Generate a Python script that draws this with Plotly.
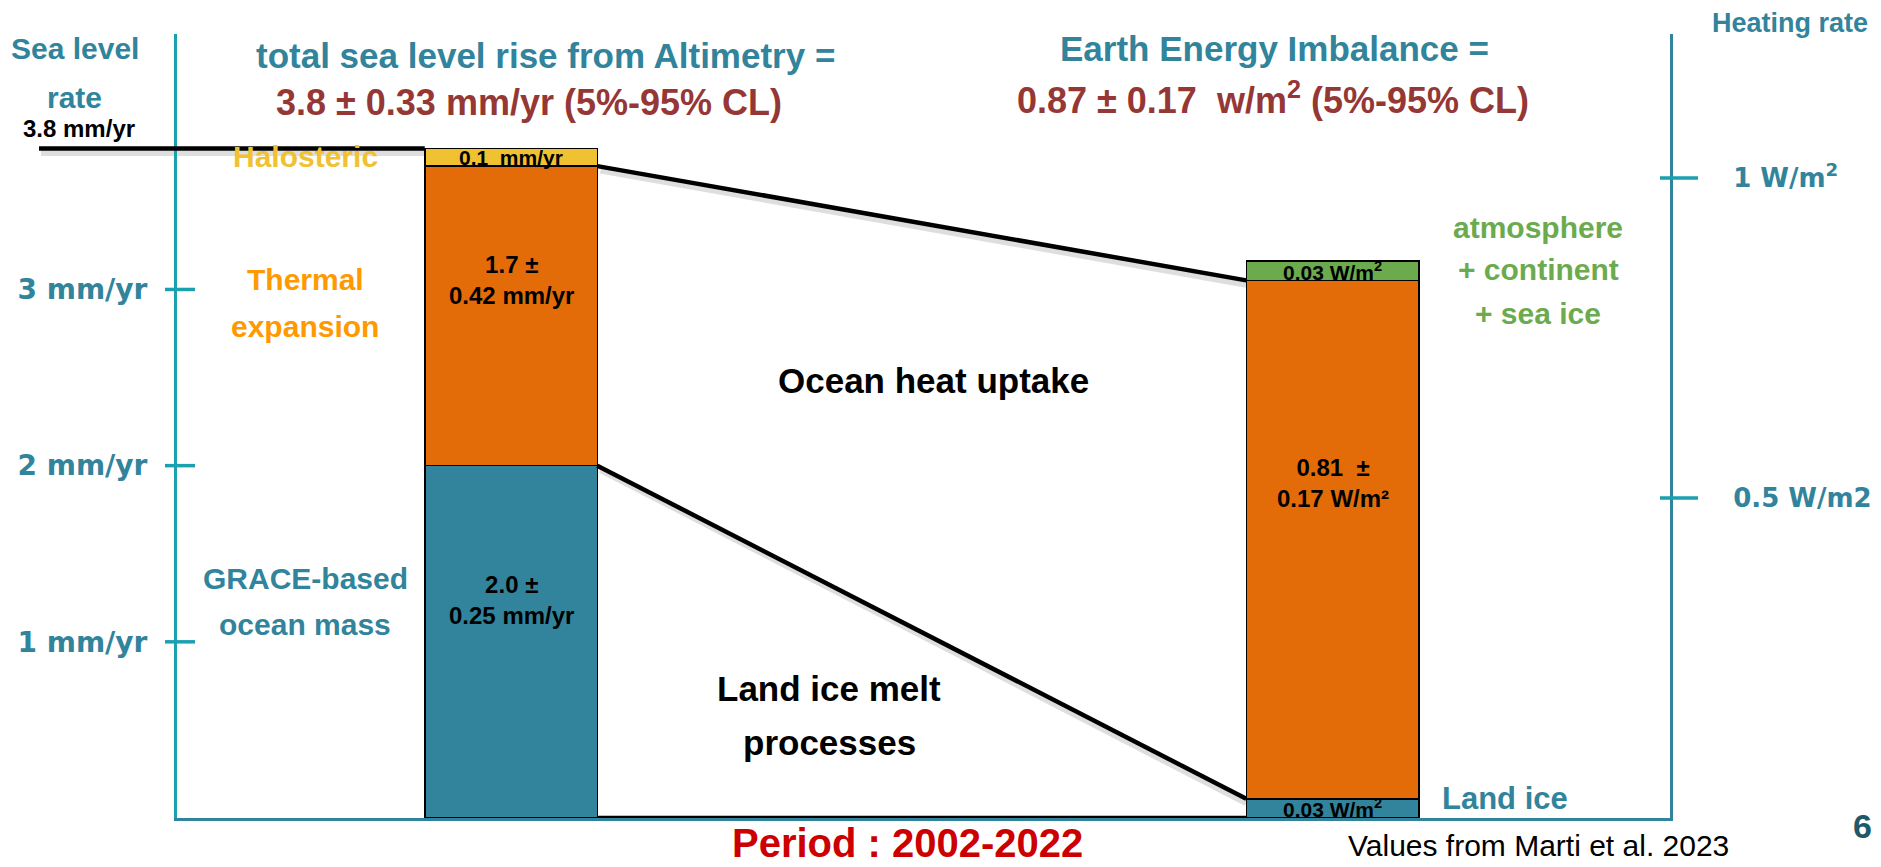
import plotly.graph_objects as go

# ---- budget components (bottom to top of each column) ----
sea_parts = ["GRACE-based ocean mass", "Thermal expansion", "Halosteric"]
sea_rates = [2.0, 1.7, 0.1]          # mm/yr
sea_errors = [0.25, 0.42, None]      # mm/yr

energy_parts = ["Land ice", "Ocean heat uptake", "atmosphere + continent + sea ice"]
energy_rates = [0.03, 0.81, 0.03]    # W/m2
energy_errors = [None, 0.17, None]   # W/m2

sea_total, sea_total_err = 3.8, 0.33   # altimetry, mm/yr
eei_total, eei_err = 0.87, 0.17        # Earth energy imbalance, W/m2
period = "2002-2022"

sea_ticks = [1, 2, 3]
sea_tick_text = ["1 mm/yr", "2 mm/yr", "3 mm/yr"]
heat_ticks = [0.5, 1.0]
heat_tick_text = ["0.5 W/m2", "1 W/m<sup>2</sup>"]

# ---- styling ----
TEAL = "#31849B"
AXIS_CYAN = "#1BA0B0"
ORANGE = "#E36C09"
GOLD = "#F0C232"
GREEN = "#6CAA4E"
RED = "#953735"
SANS = "Liberation Sans, Arial, sans-serif"
ROUND = "DejaVu Sans, Verdana, sans-serif"
SHADOW = "rgba(0,0,0,0.13)"

COL_X = [0, 1]          # column positions on the x axis
BAR_W = 0.21
X_MIN, X_MAX = -0.4066, 1.4108
Y_LEFT_MAX = 4.45       # mm/yr at top of plot area
Y_RIGHT_MAX = 1.225     # W/m2 at top of plot area
K = Y_LEFT_MAX / Y_RIGHT_MAX   # W/m2 -> left-axis units
SHADOW_DY = 0.022       # drop-shadow offset, left-axis units

# slide geometry (pixels) of the plot area
W_FIG, H_FIG = 1881, 867
PL, PR, PT, PB = 177, 1670, 34, 818


def px(X, Y):
    """Slide pixel position -> paper coordinates."""
    return (X - PL) / (PR - PL), (PB - Y) / (PB - PT)


fig = go.Figure()

# sea-level column (left axis)
for name, v, c in zip(sea_parts, sea_rates, [TEAL, ORANGE, GOLD]):
    fig.add_trace(go.Bar(x=[COL_X[0]], y=[v], name=name, width=BAR_W,
                         marker=dict(color=c, line=dict(color="black", width=1.5)),
                         yaxis="y", hoverinfo="skip"))

# energy column (right axis)
for name, v, c in zip(energy_parts, energy_rates, [TEAL, ORANGE, GREEN]):
    fig.add_trace(go.Bar(x=[COL_X[1]], y=[v], name=name, width=BAR_W,
                         marker=dict(color=c, line=dict(color="black", width=1.5)),
                         yaxis="y2", hoverinfo="skip"))

# connectors between the two columns (with a soft drop shadow)
x_l = COL_X[0] + BAR_W / 2
x_r = COL_X[1] - BAR_W / 2
connectors = [
    (sum(sea_rates[:2]), sum(energy_rates[:2]) * K),
    (sea_rates[0], energy_rates[0] * K),
    (0, 0),
]
for y_a, y_b in connectors:
    fig.add_trace(go.Scatter(x=[x_l + 0.004, x_r], y=[y_a - SHADOW_DY, y_b - SHADOW_DY],
                             mode="lines", line=dict(color=SHADOW, width=7),
                             yaxis="y", hoverinfo="skip", showlegend=False, cliponaxis=False))
for y_a, y_b in connectors:
    fig.add_trace(go.Scatter(x=[x_l, x_r], y=[y_a, y_b], mode="lines",
                             line=dict(color="black", width=4.5),
                             yaxis="y", hoverinfo="skip", showlegend=False))

# total sea-level line
x_bar_left = (COL_X[0] - BAR_W / 2 - X_MIN) / (X_MAX - X_MIN)
fig.add_shape(type="line", xref="paper", yref="y", x0=px(41, 0)[0], x1=x_bar_left,
              y0=sea_total - SHADOW_DY, y1=sea_total - SHADOW_DY,
              line=dict(color=SHADOW, width=7), layer="below")
fig.add_shape(type="line", xref="paper", yref="y", x0=px(39, 0)[0], x1=x_bar_left,
              y0=sea_total, y1=sea_total, line=dict(color="black", width=4.5))
fig.add_annotation(xref="paper", yref="y", x=px(79, 0)[0], y=sea_total,
                   xanchor="center", yanchor="bottom", yshift=5, showarrow=False,
                   text=f"<b>{sea_total} mm/yr</b>",
                   font=dict(family=SANS, size=24, color="black"))

# cross-shaped ticks on both axes
for t in sea_ticks:
    fig.add_shape(type="line", xref="paper", yref="y", x0=px(165, 0)[0], x1=px(195, 0)[0],
                  y0=t, y1=t, line=dict(color=AXIS_CYAN, width=3.5))
for t in heat_ticks:
    fig.add_shape(type="line", xref="paper", yref="y2", x0=px(1660, 0)[0], x1=px(1698, 0)[0],
                  y0=t, y1=t, line=dict(color=AXIS_CYAN, width=3.5))

# labels inside the segments
base = 0
for v, err in zip(sea_rates, sea_errors):
    frac = 0.62 if err else 0.5
    txt = f"{v:.1f} ±<br>{err:.2f} mm/yr" if err else f"{v:.1f}  mm/yr"
    fig.add_annotation(x=COL_X[0], y=base + frac * v, xref="x", yref="y", showarrow=False,
                       text=f"<b>{txt}</b>",
                       font=dict(family=SANS, size=24 if err else 21, color="black"))
    base += v

base = 0
for v, err in zip(energy_rates, energy_errors):
    frac = 0.61 if err else 0.5
    txt = f"{v:.2f}  ±<br>{err:.2f} W/m²" if err else f"{v:.2f} W/m<sup>2</sup>"
    fig.add_annotation(x=COL_X[1], y=base + frac * v, xref="x", yref="y2", showarrow=False,
                       text=f"<b>{txt}</b>",
                       font=dict(family=SANS, size=24 if err else 21, color="black"))
    base += v


def note(lines, X, Y0, size, color, step=None, bold=True):
    step = step or size * 1.3
    for i, line in enumerate(lines):
        xp, yp = px(X, Y0 + i * step)
        fig.add_annotation(xref="paper", yref="paper", x=xp, y=yp, showarrow=False,
                           xanchor="center", yanchor="middle",
                           text=f"<b>{line}</b>" if bold else line,
                           font=dict(family=SANS, size=size, color=color))


note(["Sea level", "rate"], 75, 48, 30, TEAL, step=50)
note(["total sea level rise from Altimetry ="], 545, 55, 35, TEAL)
note([f"{sea_total} ± {sea_total_err} mm/yr (5%-95% CL)"], 529, 102, 36, RED)
note(["Earth Energy Imbalance ="], 1274, 49, 35, TEAL)
note([f"{eei_total} ± {eei_err}  w/m<sup>2</sup> (5%-95% CL)"], 1273, 98, 36, RED)
note(["Heating rate"], 1790, 23, 27, TEAL)
note(["Halosteric"], 305, 157, 30, GOLD)
note(["Thermal", "expansion"], 305, 279, 30, "#FF9900", step=47)
note(["GRACE-based", "ocean mass"], 305, 578, 30, TEAL, step=46)
note(["Ocean heat uptake"], 933, 381, 35, "black")
note(["Land ice melt", "processes"], 829, 688, 35, "black", step=54)
note(["atmosphere", "+ continent", "+ sea ice"], 1538, 227, 30, GREEN, step=43)
note(["Land ice"], 1505, 798, 31, TEAL)
note([f"Period : {period}"], 907, 843, 40, "#CC0000")
note(["Values from Marti et al. 2023"], 1538, 845, 30, "black", bold=False)
note(["6"], 1862, 826, 34, "#215867")

fig.update_layout(
    width=W_FIG, height=H_FIG,
    margin=dict(l=PL, r=W_FIG - PR, t=PT, b=H_FIG - PB, pad=0, autoexpand=False),
    plot_bgcolor="white", paper_bgcolor="white",
    showlegend=False, barmode="stack",
    xaxis=dict(range=[X_MIN, X_MAX], showline=True, linecolor=TEAL, linewidth=3,
               showticklabels=False, ticks="", showgrid=False, zeroline=False,
               automargin=False),
    yaxis=dict(range=[0, Y_LEFT_MAX], showline=True, linecolor=AXIS_CYAN, linewidth=3,
               tickvals=sea_ticks, ticktext=sea_tick_text, ticks="",
               ticklabelstandoff=21, showgrid=False, zeroline=False, automargin=False,
               tickfont=dict(family=ROUND, size=28, color=TEAL, weight="bold")),
    yaxis2=dict(range=[0, Y_RIGHT_MAX], overlaying="y", side="right", showline=True,
                linecolor=TEAL, linewidth=3, tickvals=heat_ticks, ticktext=heat_tick_text,
                ticks="", ticklabelstandoff=55, showgrid=False, zeroline=False,
                automargin=False,
                tickfont=dict(family=ROUND, size=26, color=TEAL, weight="bold")),
)

fig.write_html("out.html")
